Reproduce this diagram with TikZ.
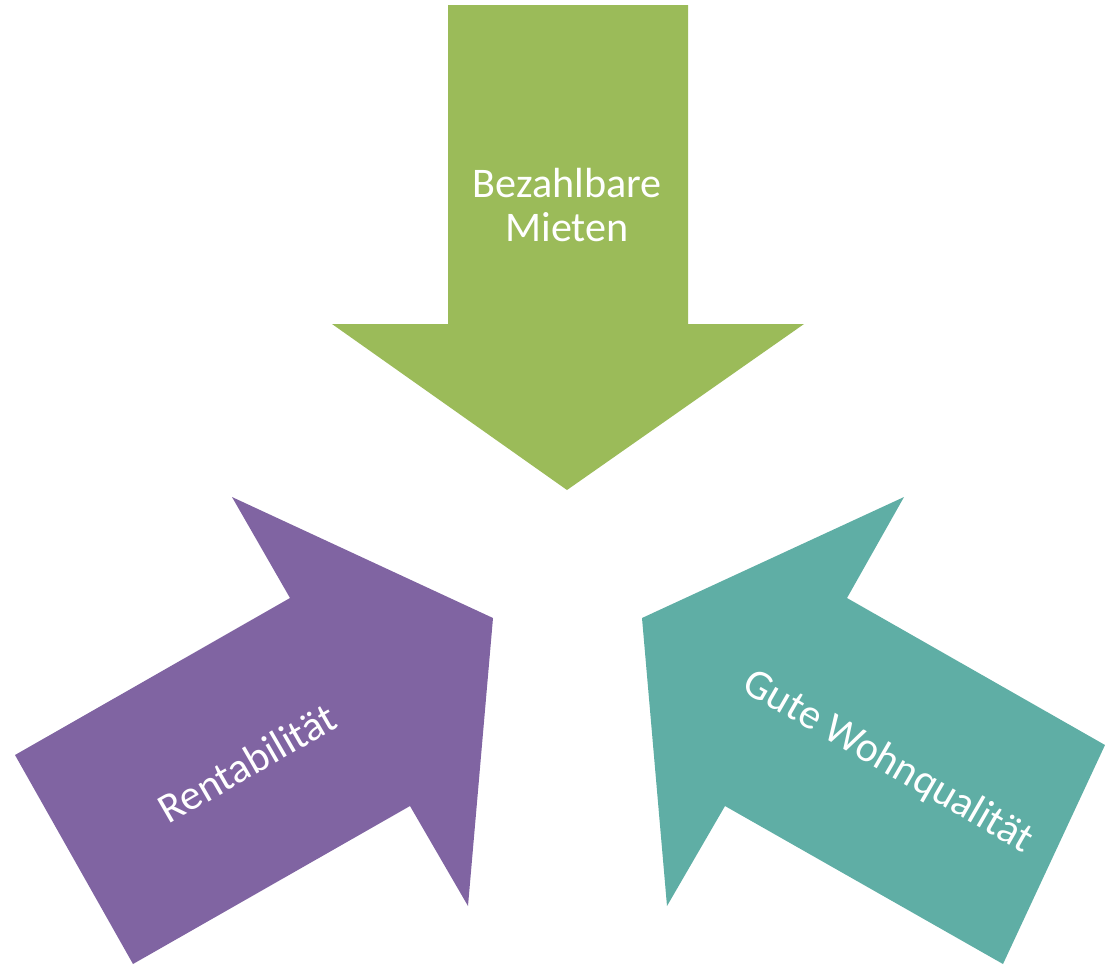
\documentclass[tikz,border=0pt]{standalone}
\usepackage{fontspec}
\setmainfont{Carlito}
\definecolor{mietgruen}{HTML}{9BBB59}
\definecolor{rentlila}{HTML}{8064A2}
\definecolor{wohnteal}{HTML}{5FAEA5}
\tikzset{pfeiltext/.style={text=white, font=\fontsize{24}{25.6}\selectfont, align=center}}

\begin{document}
\begin{tikzpicture}[x=0.02cm,y=-0.02cm]
\useasboundingbox (0,0) rectangle (1105,965);
% oben: Mieten
\fill[mietgruen] (448,5)--(688,5)--(688,324)--(804,324)--(567,490)--(332,324)--(448,324)--cycle;
% links: Rentabilitaet
\fill[rentlila] (15,755)--(290,598)--(232,497)--(493,618)--(468,906)--(410,806)--(133,964)--cycle;
% rechts: Wohnqualitaet
\fill[wohnteal] (1105,745)--(847,598)--(904,497)--(642,618)--(667,906)--(725,806)--(1003,964)--cycle;
\node[pfeiltext] (mieten) at (567,205) {Bezahlbare\\Mieten};
\node[pfeiltext, rotate=30] (rendite) at (247,763) {Rentabilität};
\node[pfeiltext, rotate=-30] (qualitaet) at (888,762) {Gute Wohnqualität};
\end{tikzpicture}
\end{document}
